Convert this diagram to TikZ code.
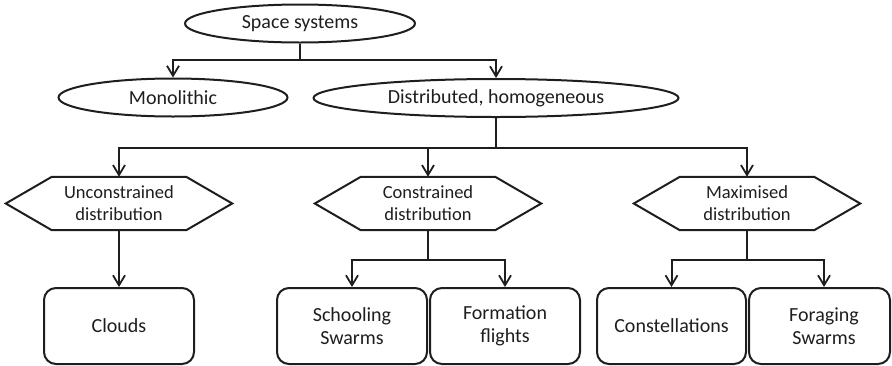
\documentclass[tikz,border=0pt]{standalone}
\usepackage{fontspec}
\setmainfont{Carlito}
\usetikzlibrary{arrows.meta,shapes.geometric,calc}
\definecolor{ink}{HTML}{1E1E1E}
\tikzset{
  base/.style={draw=ink, line width=2pt, text=ink, align=center, inner sep=0pt},
  ell/.style={base, ellipse, minimum height=38pt, font=\fontsize{20}{23}\selectfont},
  hexn/.style={align=center, text=ink, inner sep=0pt, minimum width=226pt, minimum height=53pt, font=\fontsize{18.5}{22}\selectfont},
  hexline/.style={draw=ink, line width=2pt, line join=miter},
  boxn/.style={base, rectangle, rounded corners=12pt, minimum height=76pt, minimum width=150pt, font=\fontsize{20}{23}\selectfont},
  txt/.style={align=center, text=ink, inner sep=0pt, font=\fontsize{20}{23}\selectfont},
  conn/.style={draw=ink, line width=2pt},
  arr/.style={conn, -{Straight Barb[length=10pt,width=12pt,line width=1.8pt]}}
}
\newcommand{\hexdraw}[1]{%
  \draw[hexline] (#1.west) -- ([xshift=46pt]#1.north west) -- ([xshift=-46pt]#1.north east)
    -- (#1.east) -- ([xshift=-46pt]#1.south east) -- ([xshift=46pt]#1.south west) -- cycle;}
\begin{document}
\begin{tikzpicture}[x=1pt,y=-1pt]
\useasboundingbox (0,0) rectangle (892,365);

% top level
\node[ell, minimum width=230pt] (ss) at (300,23.5) {Space systems};
\node[ell, minimum width=229pt] (mono) at (173,97.5) {Monolithic};
\node[ell, minimum width=365pt] (dist) at (496,98) {Distributed, homogeneous};

% hexagons
\node[hexn] (uc) at (119,203.5) {Unconstrained\\distribution};
\node[hexn] (cd) at (428,203.5) {Constrained\\distribution};
\node[hexn] (md) at (747,203.5) {Maximised\\distribution};
\hexdraw{uc}
\hexdraw{cd}
\hexdraw{md}

% boxes
\node[boxn] (cl) at (119,326) {Clouds};
\node[boxn] (sc) at (352,326) {Schooling\\Swarms};
\node[boxn] (ff) at (505,326) {Formation\\flights};
\node[boxn, minimum width=149pt] (co) at (671.5,326) {Constellations};
\node[boxn, minimum width=141pt] (fs) at (819.5,326) {};
\node[txt] (fst) at (824,326) {Foraging\\Swarms};

% connectors
\coordinate (j1) at (300,60);
\draw[conn] (ss) -- (j1);
\draw[arr] (j1) -| (mono);
\draw[arr] (j1) -| (dist);

\coordinate (j2) at (496,147.5);
\draw[conn] (dist) -- (j2);
\draw[arr] (j2) -| (uc);
\draw[arr] (j2) -| (md);
\draw[arr] (cd.north |- j2) -- (cd);

\draw[arr] (uc) -- (cl);

\coordinate (j3) at (428,260);
\draw[conn] (cd) -- (j3);
\draw[arr] (j3) -| (sc);
\draw[arr] (j3) -| (ff);

\coordinate (j4) at (747,260);
\coordinate (fsn) at (fst |- fs.north);
\draw[conn] (md) -- (j4);
\draw[arr] (j4) -| (co);
\draw[arr] (j4) -| (fsn);
\end{tikzpicture}
\end{document}
